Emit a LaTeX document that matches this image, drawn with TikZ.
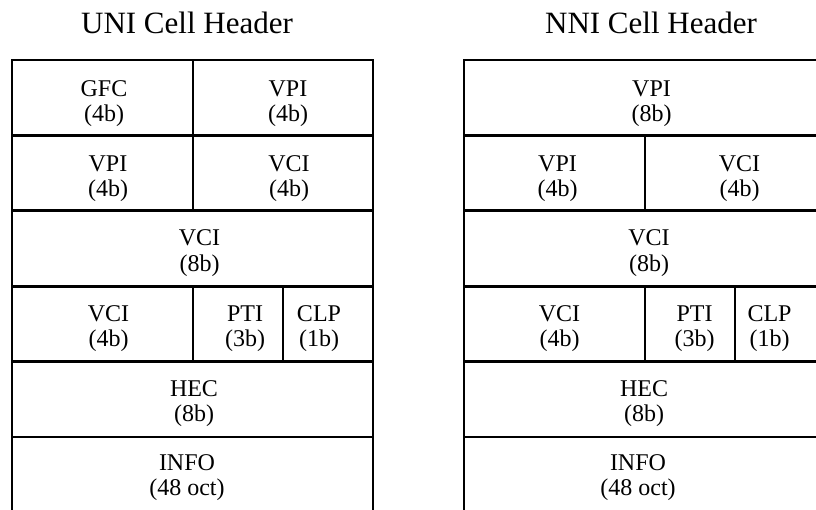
\documentclass[tikz,border=0pt]{standalone}
\usepackage{fontspec}
\setmainfont{Liberation Serif}
\begin{document}
\begin{tikzpicture}[x=1pt,y=-1pt,
  grid/.style={line width=2.8pt,line join=miter},
  title/.style={font=\fontsize{31}{36}\selectfont,anchor=base,inner sep=0pt},
  cell/.style={font=\fontsize{24}{25.5}\selectfont,align=center,anchor=base,inner sep=0pt}]
\useasboundingbox (0,0) rectangle (816,509);
\clip (0,0) rectangle (816,509);

% row boundaries (top of each row)
\def\ra{60}\def\rb{135.4}\def\rc{210.8}\def\rd{286.2}\def\re{361.6}\def\rf{437}

% ---- UNI header frame ----
\draw[grid] (12,520) -- (12,\ra) -- (373,\ra) -- (373,520);
\foreach \y in {\rb,\rc,\rd,\re,\rf} \draw[grid] (12,\y) -- (373,\y);
\draw[grid] (193,\ra) -- (193,\rc);
\draw[grid] (193,\rd) -- (193,\re);
\draw[grid] (283,\rd) -- (283,\re);

% ---- NNI header frame ----
\draw[grid] (464,520) -- (464,\ra) -- (825,\ra) -- (825,520);
\foreach \y in {\rb,\rc,\rd,\re,\rf} \draw[grid] (464,\y) -- (825,\y);
\draw[grid] (645,\rb) -- (645,\rc);
\draw[grid] (645,\rd) -- (645,\re);
\draw[grid] (735,\rd) -- (735,\re);

% ---- titles ----
\node[title] (uniTitle) at (187,33) {UNI Cell Header};
\node[title] (nniTitle) at (651,33) {NNI Cell Header};

% ---- UNI fields (anchored on the baseline of the second line) ----
\node[cell] (uGfc)  at (104,\ra+61.5) {GFC\\(4b)};
\node[cell] (uVpiA) at (288,\ra+61.5) {VPI\\(4b)};
\node[cell] (uVpiB) at (108,\rb+61.5) {VPI\\(4b)};
\node[cell] (uVciA) at (289,\rb+61.5) {VCI\\(4b)};
\node[cell] (uVciB) at (199.5,\rc+60.5) {VCI\\(8b)};
\node[cell] (uVciC) at (108.5,\rd+60.5) {VCI\\(4b)};
\node[cell] (uPti)  at (245,\rd+60.5) {PTI\\(3b)};
\node[cell] (uClp)  at (319,\rd+60.5) {CLP\\(1b)};
\node[cell] (uHec)  at (194,\re+60) {HEC\\(8b)};
\node[cell] (uInfo) at (187,\rf+58.5) {INFO\\(48 oct)};

% ---- NNI fields ----
\node[cell] (nVpiA) at (651.5,\ra+61.5) {VPI\\(8b)};
\node[cell] (nVpiB) at (557.5,\rb+61.5) {VPI\\(4b)};
\node[cell] (nVciA) at (739.5,\rb+61.5) {VCI\\(4b)};
\node[cell] (nVciB) at (649,\rc+60.5) {VCI\\(8b)};
\node[cell] (nVciC) at (559.5,\rd+60.5) {VCI\\(4b)};
\node[cell] (nPti)  at (694.5,\rd+60.5) {PTI\\(3b)};
\node[cell] (nClp)  at (769.5,\rd+60.5) {CLP\\(1b)};
\node[cell] (nHec)  at (644,\re+60) {HEC\\(8b)};
\node[cell] (nInfo) at (638,\rf+58.5) {INFO\\(48 oct)};
\end{tikzpicture}
\end{document}
